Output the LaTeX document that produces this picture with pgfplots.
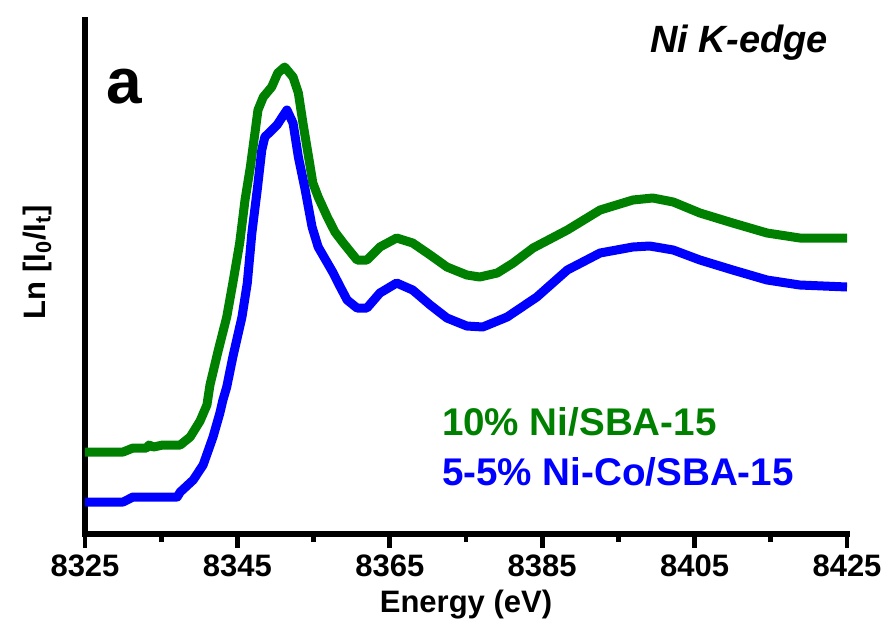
\documentclass[border=0pt]{standalone}
\usepackage{fontspec}
\setmainfont{Liberation Sans}
\usepackage{pgfplots}
\pgfplotsset{compat=1.18}
\definecolor{nigreen}{RGB}{0,128,0}
\definecolor{niblue}{RGB}{0,0,255}

\begin{document}
\begin{tikzpicture}
\useasboundingbox (-42.5pt,-47pt) rectangle (401.5pt,267pt);
\begin{axis}[
  at={(0,0)}, anchor=south west,
  scale only axis, width=381pt, height=257pt,
  xmin=8325, xmax=8425, ymin=0, ymax=5.14,
  clip=false,
  axis x line*=bottom, axis y line*=left,
  axis line style={black, line width=3.2pt, line cap=rect},
  xtick={8325,8345,8365,8385,8405,8425},
  xticklabels={8325,8345,8365,8385,8405,8425},
  minor x tick num=1,
  ytick=\empty,
  tick align=outside,
  major tick length=7pt, minor tick length=4pt,
  every tick/.style={black, line width=2.4pt},
  xticklabel style={font=\fontsize{15.5}{18}\selectfont\bfseries},
  xlabel={Energy (eV)},
  ylabel={Ln [I\textsubscript{0}/I\textsubscript{t}]},
  xlabel style={font=\fontsize{15.5}{18}\selectfont\bfseries,
    at={(axis description cs:0.5,-0.138)}, anchor=center},
  ylabel style={font=\fontsize{15.5}{18}\selectfont\bfseries,
    at={(axis description cs:-0.0617,0.529)}, anchor=center},
]
% 10% Ni/SBA-15
\addplot[nigreen, line width=4.5pt, line join=round] coordinates {
(8325.0,0.82) (8330.0,0.82) (8331.3,0.86) (8333.1,0.86) (8333.4,0.89)
(8334.0,0.87) (8335.2,0.89) (8337.5,0.89) (8338.8,0.97) (8340.1,1.13)
(8341.0,1.29) (8341.4,1.49) (8342.5,1.84) (8343.6,2.17) (8344.4,2.51)
(8345.3,2.91) (8346.0,3.34) (8346.7,3.67) (8347.3,4.01) (8347.7,4.24)
(8348.4,4.37) (8349.5,4.47) (8350.3,4.61) (8351.2,4.67) (8352.3,4.57)
(8353.0,4.41) (8353.6,4.11) (8354.3,3.79) (8354.9,3.51) (8355.6,3.37)
(8356.8,3.17) (8357.8,3.02) (8358.9,2.91) (8360.7,2.74) (8362.0,2.74)
(8363.7,2.87) (8365.9,2.96) (8368.0,2.91) (8370.3,2.79) (8372.5,2.67)
(8375.1,2.59) (8376.8,2.57) (8379.1,2.61) (8381.2,2.71) (8383.8,2.86)
(8388.3,3.04) (8392.6,3.24) (8396.9,3.34) (8399.5,3.36) (8402.2,3.32)
(8405.7,3.21) (8410.0,3.11) (8414.5,3.01) (8418.8,2.96) (8425.0,2.96)
};
% 5-5% Ni-Co/SBA-15
\addplot[niblue, line width=4.5pt, line join=round] coordinates {
(8325.0,0.32) (8330.0,0.32) (8331.3,0.37) (8337.1,0.37) (8337.5,0.42)
(8339.2,0.54) (8340.5,0.69) (8341.8,0.97) (8342.7,1.21) (8343.1,1.34)
(8343.6,1.47) (8344.4,1.77) (8345.6,2.17) (8346.3,2.51) (8346.9,3.01)
(8347.6,3.44) (8348.2,3.84) (8348.6,3.97) (8350.2,4.09) (8351.5,4.24)
(8352.3,4.11) (8353.0,3.77) (8353.9,3.44) (8354.8,3.07) (8355.6,2.87)
(8357.5,2.62) (8358.5,2.47) (8359.4,2.34) (8360.7,2.26) (8362.0,2.26)
(8363.7,2.41) (8365.9,2.51) (8368.0,2.44) (8370.3,2.29) (8372.5,2.16)
(8375.1,2.08) (8377.2,2.07) (8380.4,2.17) (8384.3,2.37) (8388.3,2.64)
(8392.6,2.81) (8396.9,2.87) (8399.1,2.88) (8402.2,2.84) (8405.7,2.74)
(8410.0,2.64) (8414.5,2.54) (8418.8,2.49) (8425.0,2.47)
};
\node[anchor=base west, inner sep=0, font=\fontsize{32}{36}\selectfont\bfseries]
  at (axis description cs:0.0276,0.8366) {a};
\node[anchor=base west, inner sep=0, font=\fontsize{19}{22}\selectfont\bfseries\itshape]
  at (axis description cs:0.7415,0.936) {Ni K-edge};
\node[anchor=base west, inner sep=0, text=nigreen, font=\fontsize{19.3}{22}\selectfont\bfseries]
  at (axis description cs:0.468,0.1907) {10\% Ni/SBA-15};
\node[anchor=base west, inner sep=0, text=niblue, font=\fontsize{19.3}{22}\selectfont\bfseries]
  at (axis description cs:0.468,0.0953) {5-5\% Ni-Co/SBA-15};
\end{axis}
\end{tikzpicture}
\end{document}
